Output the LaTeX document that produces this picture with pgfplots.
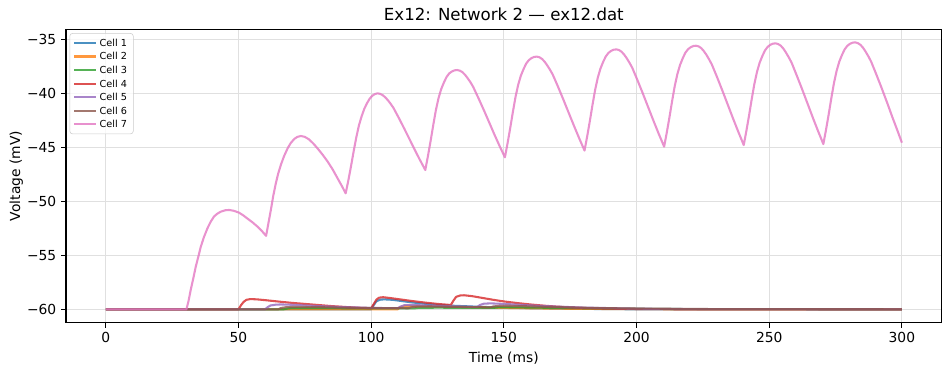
\documentclass[border=0pt]{standalone}
\usepackage{fontspec}
\setmainfont{DejaVu Sans}
\usepackage{pgfplots}
\pgfplotsset{compat=1.18}
\definecolor{c0}{HTML}{1F77B4}
\definecolor{c1}{HTML}{FF7F0E}
\definecolor{c2}{HTML}{2CA02C}
\definecolor{c3}{HTML}{D62728}
\definecolor{c4}{HTML}{9467BD}
\definecolor{c5}{HTML}{8C564B}
\definecolor{c6}{HTML}{E377C2}
\begin{document}
\begin{tikzpicture}
\begin{axis}[
  scale only axis, width=8.757in, height=2.934in,
  xmin=-15, xmax=315, ymin=-61.24, ymax=-34.07,
  xtick={0,50,100,150,200,250,300},
  ytick={-60,-55,-50,-45,-40,-35},
  yticklabels={−60,−55,−50,−45,−40,−35},
  /pgf/number format/assume math mode=true,
  tick label style={font=\fontsize{10}{12}\selectfont},
  label style={font=\fontsize{10}{12}\selectfont},
  title style={font=\fontsize{12}{14}\selectfont, yshift=-3.5pt},
  title={Ex12: Network 2 — ex12.dat},
  xlabel={Time (ms)}, ylabel={Voltage (mV)},
  ylabel shift=-4pt,
  tick align=outside, tick pos=left, major tick length=3.5pt,
  every tick/.style={black, line width=0.8pt},
  grid=major, grid style={color=black!12, line width=0.8pt},
  axis line style={line width=0.8pt},
  every axis plot/.append style={line width=1.5pt, opacity=0.8, line join=round},
  legend cell align=left,
  legend image code/.code={\draw[#1] (0cm,0cm) -- (0.55cm,0cm);},
  legend style={at={(0.004,0.987)}, anchor=north west,
    font=\fontsize{7}{8}\selectfont, draw=black!20, rounded corners=2pt,
    fill=white, fill opacity=0.8, text opacity=1, inner xsep=2.5pt, inner ysep=2pt,
    nodes={inner xsep=2pt, inner ysep=2.2pt, text height=5.2pt, text depth=0.2pt}},
]
% Cell 1
\addplot[c0] coordinates {(0,-60)(100,-60)(101,-59.6)(102,-59.25)(103.5,-59.1)(105,-59.08)(108,-59.12)(112,-59.25)(116,-59.38)(120,-59.48)(125,-59.58)(130,-59.66)(140,-59.76)(150,-59.84)(160,-59.9)(180,-59.96)(200,-60)(300,-60)};
\addlegendentry{Cell 1}
% Cell 2
\addplot[c1] coordinates {(0,-60)(110,-60)(111,-59.8)(113,-59.7)(116,-59.68)(120,-59.7)(130,-59.76)(140,-59.82)(150,-59.87)(170,-59.94)(200,-59.99)(300,-60)};
\addlegendentry{Cell 2}
% Cell 3
\addplot[c2] coordinates {(0,-60)(67,-60)(69,-59.9)(75,-59.88)(90,-59.9)(116,-59.92)(118,-59.86)(125,-59.85)(146,-59.87)(148,-59.82)(155,-59.82)(170,-59.87)(190,-59.93)(220,-59.98)(300,-60)};
\addlegendentry{Cell 3}
% Cell 4
\addplot[c3] coordinates {(0,-60)(50,-60)(51,-59.6)(52,-59.3)(53,-59.12)(54.5,-59.05)(57,-59.08)(60,-59.15)(65,-59.28)(70,-59.4)(75,-59.5)(80,-59.6)(85,-59.7)(90,-59.78)(95,-59.85)(100,-59.9)(101,-59.5)(102,-59.1)(103,-58.92)(104.5,-58.88)(107,-58.95)(110,-59.05)(115,-59.22)(120,-59.37)(125,-59.5)(130,-59.6)(131,-59.2)(132,-58.85)(133.5,-58.72)(135,-58.7)(138,-58.78)(142,-58.95)(146,-59.12)(150,-59.27)(155,-59.42)(160,-59.55)(165,-59.66)(170,-59.75)(175,-59.82)(180,-59.88)(190,-59.94)(200,-59.97)(220,-60)(300,-60)};
\addlegendentry{Cell 4}
% Cell 5
\addplot[c4] coordinates {(0,-60)(60,-60)(61,-59.8)(62,-59.65)(64,-59.57)(66,-59.55)(70,-59.58)(75,-59.64)(80,-59.7)(90,-59.8)(100,-59.87)(110,-59.9)(111,-59.75)(112.5,-59.62)(115,-59.6)(120,-59.64)(130,-59.72)(140,-59.78)(141,-59.6)(142.5,-59.48)(145,-59.45)(150,-59.5)(160,-59.64)(170,-59.75)(180,-59.84)(200,-59.94)(220,-59.98)(300,-60)};
\addlegendentry{Cell 5}
% Cell 6
\addplot[c5] coordinates {(0,-60)(65,-60)(66,-59.88)(68,-59.8)(72,-59.78)(80,-59.8)(90,-59.85)(100,-59.88)(114,-59.9)(115,-59.82)(117,-59.76)(122,-59.74)(130,-59.77)(140,-59.8)(145,-59.82)(146,-59.74)(148,-59.68)(152,-59.67)(160,-59.73)(170,-59.8)(185,-59.88)(200,-59.93)(230,-59.98)(300,-60)};
\addlegendentry{Cell 6}
% Cell 7
\addplot[c6] coordinates {
(0,-60)(30.4,-60)
(31.2,-59.2)(32.0,-58.2)(33.0,-57.1)(33.9,-56.05)(35.0,-55.0)(35.8,-54.2)(37.0,-53.3)(38.3,-52.5)(39.5,-51.9)(40.8,-51.4)(42.0,-51.15)(43.3,-50.96)(45.0,-50.83)(46.5,-50.8)(48.3,-50.88)(50.2,-51.05)(51.8,-51.3)(53.4,-51.6)(55.3,-51.95)(57.2,-52.35)(59.0,-52.8)(60.4,-53.2)
(61.3,-52.0)(62.2,-50.8)(63.1,-49.5)(64.1,-48.3)(65.0,-47.4)(66.0,-46.6)(67.2,-45.8)(68.5,-45.1)(69.7,-44.6)(71.0,-44.23)(72.2,-44.03)(73.5,-43.95)(75.0,-44.03)(76.6,-44.27)(78.2,-44.65)(79.8,-45.1)(81.7,-45.68)(83.6,-46.32)(85.5,-47.05)(87.3,-47.85)(89.0,-48.6)(90.4,-49.26)
(91.4,-48.06)(92.4,-46.76)(93.4,-45.37)(94.4,-44.07)(95.4,-42.96)(96.4,-42.13)(97.4,-41.44)(98.4,-40.93)(99.4,-40.51)(100.4,-40.23)(101.4,-40.07)(102.4,-40.0)
(103.4,-40.05)(104.4,-40.18)(105.4,-40.39)(106.4,-40.67)(107.4,-40.99)(108.4,-41.35)(110.4,-42.27)(112.4,-43.23)(114.4,-44.22)(116.4,-45.22)(118.4,-46.18)(119.4,-46.64)(120.4,-47.1)
(121.4,-45.80)(122.4,-44.41)(123.4,-42.93)(124.4,-41.54)(125.4,-40.43)(126.4,-39.60)(127.4,-39.00)(128.4,-38.49)(129.4,-38.16)(130.4,-37.98)(131.4,-37.87)(132.4,-37.84)
(133.4,-37.90)(134.4,-38.04)(135.4,-38.29)(136.4,-38.61)(137.4,-38.97)(138.4,-39.38)(140.4,-40.43)(142.4,-41.52)(144.4,-42.65)(146.4,-43.79)(148.4,-44.88)(149.4,-45.40)(150.4,-45.93)
(151.4,-44.62)(152.4,-43.22)(153.4,-41.73)(154.4,-40.33)(155.4,-39.21)(156.4,-38.37)(157.4,-37.77)(158.4,-37.25)(159.4,-36.93)(160.4,-36.74)(161.4,-36.63)(162.4,-36.6)
(163.4,-36.66)(164.4,-36.82)(165.4,-37.08)(166.4,-37.43)(167.4,-37.82)(168.4,-38.25)(170.4,-39.38)(172.4,-40.56)(174.4,-41.78)(176.4,-42.99)(178.4,-44.17)(179.4,-44.73)(180.4,-45.3)
(181.4,-43.99)(182.4,-42.58)(183.4,-41.08)(184.4,-39.68)(185.4,-38.55)(186.4,-37.71)(187.4,-37.10)(188.4,-36.59)(189.4,-36.26)(190.4,-36.07)(191.4,-35.96)(192.4,-35.93)
(193.4,-35.99)(194.4,-36.16)(195.4,-36.43)(196.4,-36.79)(197.4,-37.19)(198.4,-37.64)(200.4,-38.81)(202.4,-40.03)(204.4,-41.29)(206.4,-42.55)(208.4,-43.77)(209.4,-44.35)(210.4,-44.94)
(211.4,-43.63)(212.4,-42.23)(213.4,-40.73)(214.4,-39.33)(215.4,-38.21)(216.4,-37.37)(217.4,-36.76)(218.4,-36.24)(219.4,-35.92)(220.4,-35.73)(221.4,-35.62)(222.4,-35.59)
(223.4,-35.65)(224.4,-35.82)(225.4,-36.10)(226.4,-36.46)(227.4,-36.88)(228.4,-37.34)(230.4,-38.53)(232.4,-39.78)(234.4,-41.06)(236.4,-42.35)(238.4,-43.59)(239.4,-44.19)(240.4,-44.79)
(241.4,-43.47)(242.4,-42.06)(243.4,-40.55)(244.4,-39.14)(245.4,-38.01)(246.4,-37.16)(247.4,-36.55)(248.4,-36.03)(249.4,-35.70)(250.4,-35.51)(251.4,-35.40)(252.4,-35.37)
(253.4,-35.44)(254.4,-35.60)(255.4,-35.88)(256.4,-36.26)(257.4,-36.68)(258.4,-37.14)(260.4,-38.36)(262.4,-39.62)(264.4,-40.92)(266.4,-42.23)(268.4,-43.49)(269.4,-44.09)(270.4,-44.7)
(271.4,-43.38)(272.4,-41.97)(273.4,-40.46)(274.4,-39.05)(275.4,-37.92)(276.4,-37.07)(277.4,-36.46)(278.4,-35.94)(279.4,-35.61)(280.4,-35.42)(281.4,-35.31)(282.4,-35.28)
(283.4,-35.35)(284.4,-35.51)(285.4,-35.79)(286.4,-36.17)(287.4,-36.59)(288.4,-37.06)(290.4,-38.27)(292.4,-39.53)(294.4,-40.84)(296.4,-42.2)(298.4,-43.5)(300,-44.57)
};
\addlegendentry{Cell 7}
\end{axis}
\pgfresetboundingbox
\path[use as bounding box] ([shift={(-0.66in,-0.513in)}]current axis.south west) rectangle ([shift={(0.083in,0.293in)}]current axis.north east);
\end{tikzpicture}
\end{document}
